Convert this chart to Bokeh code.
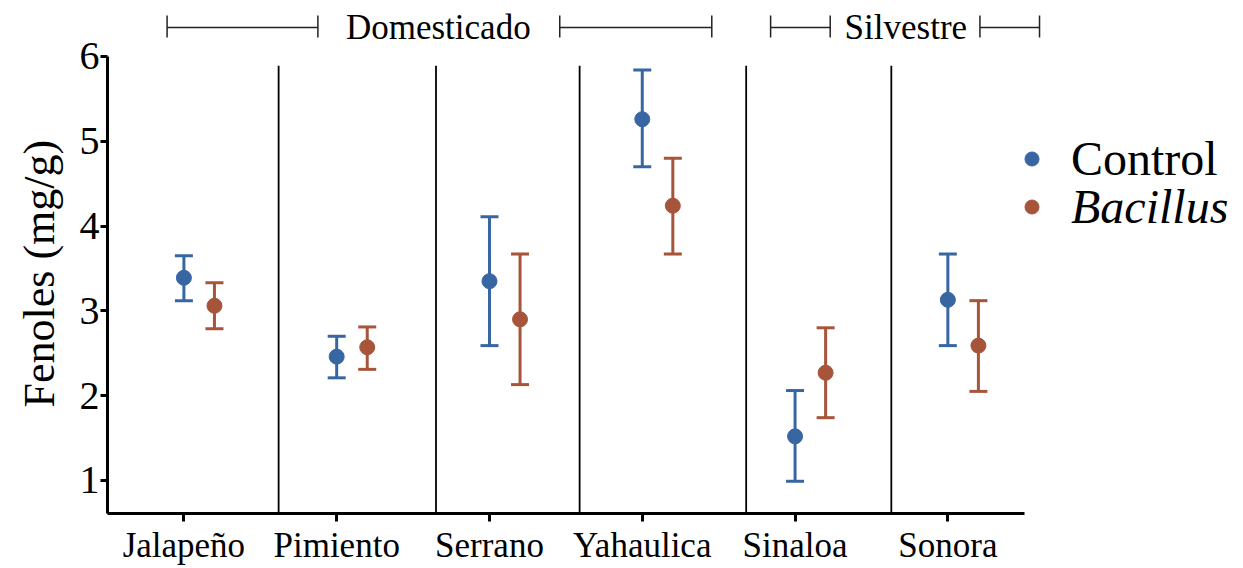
from bokeh.plotting import figure
from bokeh.models import (ColumnDataSource, Range1d, FixedTicker, Whisker, TeeHead,
                          Legend, LegendItem, Title)
from bokeh.core.properties import value
from bokeh.embed import file_html
from bokeh.resources import INLINE
import numpy as np

# Phenol content (mg/g) per chili cultivar, control vs. Bacillus inoculation
cultivars = ["Jalapeño", "Pimiento", "Serrano", "Yahaulica", "Sinaloa", "Sonora"]
control_mean = [3.39, 2.46, 3.35, 5.26, 1.52, 3.13]
control_upper = [3.65, 2.70, 4.11, 5.84, 2.06, 3.67]
control_lower = [3.12, 2.21, 2.59, 4.70, 0.99, 2.59]
bacillus_mean = [3.06, 2.57, 2.90, 4.24, 2.27, 2.59]
bacillus_upper = [3.33, 2.81, 3.67, 4.80, 2.80, 3.12]
bacillus_lower = [2.79, 2.31, 2.13, 3.67, 1.74, 2.05]
y_ticks = [1, 2, 3, 4, 5, 6]
groups = ["Domesticado", "Silvestre"]

FONT = "Liberation Serif"
BLUE = "#3866A3"
RUST = "#A6553A"
DODGE = 0.2

idx = np.arange(len(cultivars), dtype=float)
src_c = ColumnDataSource(dict(x=idx, y=control_mean, up=control_upper, lo=control_lower))
src_b = ColumnDataSource(dict(x=idx + DODGE, y=bacillus_mean, up=bacillus_upper, lo=bacillus_lower))

p = figure(width=1243, height=568, output_backend="svg", toolbar_location=None,
           x_range=Range1d(-0.5, 6.935), y_range=Range1d(0.61, 6.66),
           min_border_left=107, min_border_right=0, min_border_top=0, min_border_bottom=55)
p.outline_line_color = None
p.xgrid.visible = False
p.ygrid.visible = False
p.background_fill_color = "white"

# axes
for ax in (p.xaxis[0], p.yaxis[0]):
    ax.axis_line_width = 3
    ax.axis_line_color = "black"
    ax.major_tick_line_width = 3
    ax.major_tick_line_color = "black"
    ax.major_tick_in = 0
    ax.minor_tick_line_color = None
    ax.major_label_text_font = FONT
    ax.major_label_text_color = "black"

p.xaxis.ticker = FixedTicker(ticks=list(idx))
p.xaxis.major_label_overrides = {float(i): c for i, c in enumerate(cultivars)}
p.xaxis.major_label_overrides.update({int(i): c for i, c in enumerate(cultivars)})
p.xaxis.bounds = (-0.5, 5.5)
p.xaxis.major_tick_out = 8
p.xaxis.major_label_standoff = 4
p.xaxis.major_label_text_font_size = "35px"

p.yaxis.ticker = FixedTicker(ticks=y_ticks)
p.yaxis.bounds = (0.61, 6)
p.yaxis.major_tick_out = 7
p.yaxis.major_label_standoff = 1
p.yaxis.major_label_text_font_size = "40px"

# y-axis title, placed beside the axis and shifted down along it
p.add_layout(Title(text="Fenoles (mg/g)", align="left", offset=106,
                   text_font=FONT, text_font_size="44px", text_font_style="normal",
                   text_color="black", standoff=25), "left")

# vertical separators between cultivars
sep_x = [0.62, 1.65, 2.59, 3.68, 4.63]
p.segment(x0=sep_x, x1=sep_x, y0=[0.61] * 5, y1=[5.89] * 5, line_color="black", line_width=1.8)

# error bars and means
for src, col in ((src_c, BLUE), (src_b, RUST)):
    w = Whisker(base="x", upper="up", lower="lo", source=src, dimension="height",
                line_color=col, line_width=3,
                upper_head=TeeHead(size=18, line_color=col, line_width=3),
                lower_head=TeeHead(size=18, line_color=col, line_width=3))
    p.add_layout(w)
r_c = p.scatter("x", "y", source=src_c, size=15, color=BLUE)
r_b = p.scatter("x", "y", source=src_b, size=15, color=RUST)

# group brackets above the plot
arm_y = 6.342
arms = [(-0.11, 0.877), (2.46, 3.455), (3.84, 4.23), (5.21, 5.60)]
ax0 = [a for a, b in arms]
ax1 = [b for a, b in arms]
p.segment(x0=ax0, x1=ax1, y0=[arm_y] * 4, y1=[arm_y] * 4, line_color="#222222", line_width=1.5)
ends = ax0 + ax1
p.segment(x0=ends, x1=ends, y0=[6.224] * 8, y1=[6.483] * 8, line_color="#222222", line_width=1.5)
p.text(x=[1.665, 4.725], y=[arm_y, arm_y], text=groups, text_align="center",
       text_baseline="middle", text_font=value(FONT), text_font_size="35px", text_color="black")

# legend
def make_legend(label, rend, loc, style):
    return Legend(items=[LegendItem(label=label, renderers=[rend])], location=loc,
                  label_text_font=FONT, label_text_font_size="48px",
                  label_text_font_style=style, label_text_color="black",
                  glyph_width=35, glyph_height=35, label_standoff=22,
                  padding=0, margin=0, spacing=0, border_line_color=None,
                  background_fill_alpha=0)

p.add_layout(make_legend("Control", r_c, (907, 327), "normal"))
p.add_layout(make_legend("Bacillus", r_b, (907, 279), "italic"))

open("out.html", "w").write(file_html(p, INLINE))
